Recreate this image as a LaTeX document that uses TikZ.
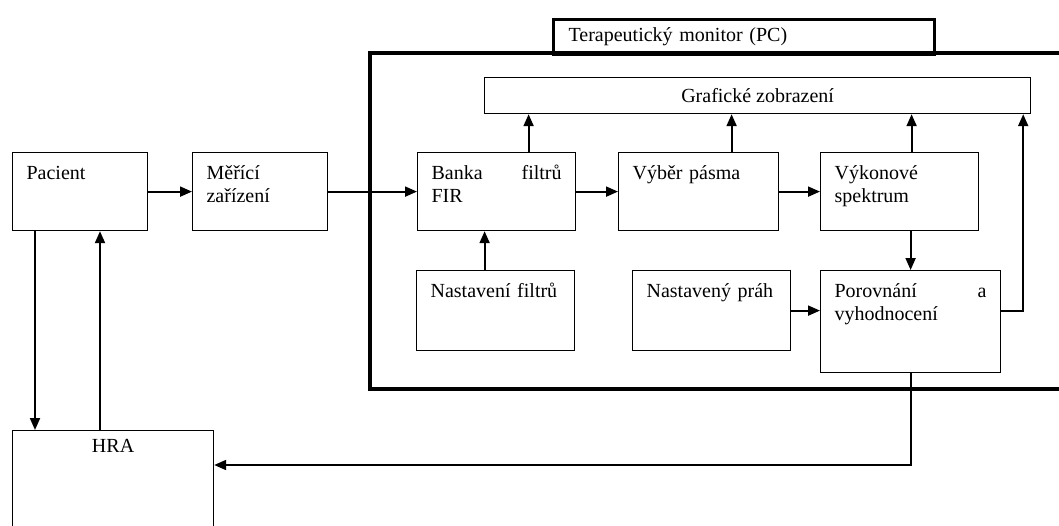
\documentclass[tikz,border=0pt]{standalone}
\usepackage{fontspec}
\setmainfont{Liberation Serif}
\usetikzlibrary{arrows.meta}

\begin{document}
\begin{tikzpicture}[x=0.5pt,y=-0.5pt,>={Triangle[length=6pt,width=5pt]},
  font=\fontsize{10}{11.5}\selectfont,
  blk/.style={draw,line width=0.6pt,anchor=north west,align=left,
    inner xsep=7pt,inner ysep=6pt,text height=7.5pt},
  pcframe/.style={draw,line width=1.6pt},
  arr/.style={->,line width=1pt}]
\clip (0,0) rectangle (1059,525);

% PC frame with its title tab
\draw[pcframe] (370,53) rectangle (1066,389);
\node (tab) [pcframe,anchor=north west,align=left,text width=175.5pt,
  minimum height=17.5pt,inner xsep=7.5pt,inner ysep=0pt] at (552,18) {Terapeutický monitor (PC)};
\node (graf) [draw,line width=0.6pt,anchor=north west,minimum width=273pt,
  minimum height=18pt,inner sep=0pt] at (484,77) {Grafické zobrazení};

% Blocks
\node (pac) [blk,text width=53.5pt,text depth=19.5pt] at (12,152) {Pacient};
\node (mer) [blk,text width=53.5pt,text depth=19.5pt] at (192,152) {Měřící\\zařízení};
\node (ban) [blk,text width=65pt,text depth=19.5pt] at (417,152) {Banka\hfill filtrů\\FIR};
\node (vyb) [blk,text width=66pt,text depth=19.5pt] at (618,152) {Výběr pásma};
\node (vyk) [blk,text width=65pt,text depth=19.5pt] at (820,152) {Výkonové\\spektrum};
\node (nfil) [blk,text width=65pt,text depth=20.5pt] at (416,270) {Nastavení filtrů};
\node (nprah) [blk,text width=65pt,text depth=20.5pt] at (632,270) {Nastavený práh};
\node (por) [blk,text width=76pt,text depth=31.5pt] at (820,270) {Porovnání\hfill a\\vyhodnocení};
\node (hra) [blk,align=center,text width=86.5pt,inner ysep=3.5pt,text depth=60pt] at (12,430) {HRA};

% Signal path
\draw[arr] (pac.east) -- (mer.west);
\draw[arr] (mer.east) -- (ban.west);
\draw[arr] (ban.east) -- (vyb.west);
\draw[arr] (vyb.east) -- (vyk.west);

% Into the display
\draw[arr] ([xshift=16pt]ban.north) -- ([xshift=16pt]ban.north |- graf.south);
\draw[arr] ([xshift=16.5pt]vyb.north) -- ([xshift=16.5pt]vyb.north |- graf.south);
\draw[arr] ([xshift=6pt]vyk.north) -- ([xshift=6pt]vyk.north |- graf.south);
\draw[arr] (por.east |- nprah.east) -| ([xshift=-4pt]graf.south east);

% Settings and evaluation
\draw[arr] ([xshift=-5.5pt]nfil.north) -- ([xshift=-5.5pt]nfil.north |- ban.south);
\draw[arr] (por.north |- vyk.south) -- (por.north);
\draw[arr] (nprah.east) -- (nprah.east -| por.west);

% Feedback loop with HRA
\draw[arr] (por.south) |- ([yshift=-17.5pt]hra.north east);
\draw[arr] ([xshift=11.5pt]pac.south west) -- ([xshift=11.5pt]pac.south west |- hra.north);
\draw[arr] ([xshift=44pt]hra.north west) -- ([xshift=44pt]hra.north west |- pac.south);
\end{tikzpicture}
\end{document}
